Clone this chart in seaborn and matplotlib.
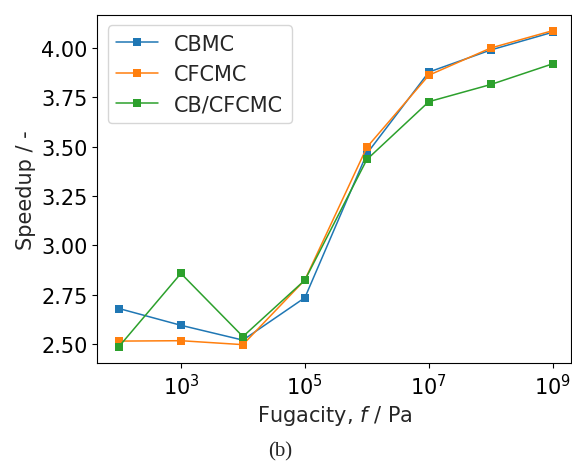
import matplotlib
matplotlib.use("Agg")
import matplotlib.pyplot as plt
import matplotlib.ticker as mticker
import pandas as pd
import seaborn as sns

fugacity = [1e2, 1e3, 1e4, 1e5, 1e6, 1e7, 1e8, 1e9]
cbmc = [2.68, 2.595, 2.52, 2.735, 3.465, 3.878, 3.99, 4.08]
cfcmc = [2.515, 2.517, 2.497, 2.825, 3.497, 3.862, 4.0, 4.088]
cbcfcmc = [2.487, 2.858, 2.538, 2.824, 3.435, 3.728, 3.815, 3.92]
methods = ["CBMC", "CFCMC", "CB/CFCMC"]


def main():
    df = pd.DataFrame({
        "f": fugacity * 3,
        "speedup": cbmc + cfcmc + cbcfcmc,
        "method": [m for m in methods for _ in fugacity],
    })

    sns.set_style("ticks")
    plt.rcParams["font.family"] = ["DejaVu Sans"]

    fig = plt.figure(figsize=(5.72, 4.64), dpi=100)
    ax = fig.add_axes([0.170, 0.2155, 0.829, 0.75])

    sns.lineplot(data=df, x="f", y="speedup", hue="method", hue_order=methods,
                 palette=["#1f77b4", "#ff7f0e", "#2ca02c"], marker="s",
                 markersize=6, markeredgewidth=0, linewidth=1.1, ax=ax)

    ax.set_xscale("log")
    ax.set_xlim(10 ** 1.65, 10 ** 9.3)
    ax.set_ylim(2.404, 4.167)
    ax.xaxis.set_major_locator(mticker.FixedLocator([1e3, 1e5, 1e7, 1e9]))
    ax.xaxis.set_minor_locator(mticker.NullLocator())
    ax.yaxis.set_major_locator(mticker.MultipleLocator(0.25))
    ax.yaxis.set_major_formatter(mticker.FormatStrFormatter("%.2f"))
    ax.tick_params(labelsize=15, colors="black")
    for s in ax.spines.values():
        s.set_color("black")
        s.set_linewidth(0.8)

    ax.set_xlabel("Fugacity, $f$ / Pa", fontsize=15)
    ax.set_ylabel("Speedup / -", fontsize=15)
    ax.legend(loc="upper left", fontsize=15, title=None, frameon=True,
              handlelength=2.0, borderaxespad=0.5)

    fig.text(0.49, 0.026, "(b)", family="Liberation Serif", fontsize=15,
             ha="center", va="center")

    plt.savefig("out.png", dpi=100)


if __name__ == "__main__":
    main()
